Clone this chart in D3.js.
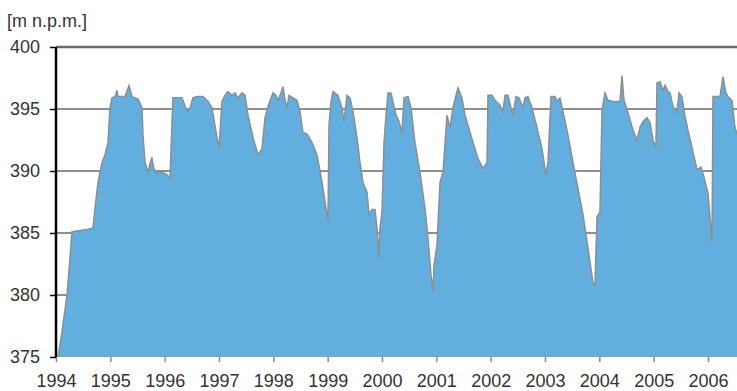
<!DOCTYPE html>
<html lang="pl">
  <head>
    <meta charset="UTF-8" />
    <title>Water level</title>
    <script src="https://cdn.jsdelivr.net/npm/d3@7"></script>
    <style>
      body { margin: 0; background: #fff; }
      text { font-family: "Liberation Sans", Arial, sans-serif; fill: #333; }
    </style>
  </head>
  <body>
    <script>
      // decimal year and water level [m n.p.m.]
      var years = [1994.037, 1994.110, 1994.202, 1994.258, 1994.294, 1994.442, 1994.589, 1994.681, 1994.718, 1994.773,
        1994.847, 1994.902, 1994.957, 1994.994, 1995.031, 1995.086, 1995.123, 1995.141, 1995.270, 1995.344,
        1995.399, 1995.509, 1995.583, 1995.601, 1995.638, 1995.693, 1995.730, 1995.767, 1995.785, 1995.822,
        1995.951, 1996.043, 1996.098, 1996.135, 1996.153, 1996.319, 1996.411, 1996.466, 1996.521, 1996.595,
        1996.706, 1996.798, 1996.871, 1996.963, 1997.000, 1997.055, 1997.110, 1997.166, 1997.239, 1997.294,
        1997.350, 1997.423, 1997.479, 1997.534, 1997.626, 1997.718, 1997.791, 1997.847, 1997.902, 1997.994,
        1998.049, 1998.086, 1998.141, 1998.178, 1998.215, 1998.252, 1998.288, 1998.362, 1998.436, 1998.491,
        1998.546, 1998.620, 1998.712, 1998.804, 1998.896, 1998.988, 1999.006, 1999.025, 1999.061, 1999.098,
        1999.190, 1999.264, 1999.301, 1999.356, 1999.411, 1999.466, 1999.540, 1999.595, 1999.650, 1999.724,
        1999.761, 1999.816, 1999.871, 1999.908, 1999.945, 1999.963, 2000.000, 2000.037, 2000.074, 2000.110,
        2000.166, 2000.202, 2000.258, 2000.313, 2000.368, 2000.405, 2000.479, 2000.534, 2000.607, 2000.699,
        2000.791, 2000.847, 2000.902, 2000.939, 2000.957, 2001.012, 2001.068, 2001.123, 2001.196, 2001.252,
        2001.307, 2001.362, 2001.399, 2001.472, 2001.528, 2001.583, 2001.675, 2001.767, 2001.859, 2001.933,
        2001.951, 2002.025, 2002.080, 2002.172, 2002.227, 2002.264, 2002.319, 2002.374, 2002.411, 2002.466,
        2002.521, 2002.595, 2002.632, 2002.687, 2002.761, 2002.853, 2002.945, 2003.018, 2003.055, 2003.110,
        2003.184, 2003.221, 2003.276, 2003.331, 2003.423, 2003.515, 2003.607, 2003.699, 2003.791, 2003.883,
        2003.920, 2003.957, 2004.012, 2004.049, 2004.104, 2004.160, 2004.252, 2004.380, 2004.417, 2004.454,
        2004.528, 2004.620, 2004.693, 2004.748, 2004.804, 2004.877, 2004.933, 2004.988, 2005.043, 2005.061,
        2005.117, 2005.172, 2005.209, 2005.264, 2005.301, 2005.356, 2005.429, 2005.466, 2005.521, 2005.577,
        2005.632, 2005.706, 2005.798, 2005.871, 2005.926, 2006.000, 2006.037, 2006.074, 2006.092, 2006.221,
        2006.276, 2006.331, 2006.368, 2006.442, 2006.497, 2006.534, 2006.600];
      var levels = [375.0, 377.0, 380.0, 383.0, 385.1, 385.2, 385.3, 385.4, 387.0, 389.1,
        390.7, 391.3, 392.3, 395.1, 395.9, 396.0, 396.5, 396.0, 396.0, 396.9,
        396.0, 395.8, 395.1, 392.9, 390.7, 389.9, 390.6, 391.1, 390.5, 389.9,
        389.9, 389.7, 389.4, 394.0, 395.9, 395.9, 394.8, 395.1, 395.9, 396.0,
        396.0, 395.6, 395.1, 392.7, 391.9, 395.6, 396.1, 396.4, 396.1, 396.3,
        395.9, 396.3, 396.1, 394.5, 392.7, 391.3, 391.8, 394.3, 395.2, 396.3,
        396.1, 395.7, 396.3, 396.8, 395.7, 395.1, 396.1, 395.9, 395.7, 394.8,
        393.1, 393.0, 392.3, 391.3, 389.1, 386.5, 386.0, 393.7, 395.6, 396.4,
        396.1, 395.1, 394.0, 396.1, 395.9, 394.8, 392.7, 390.7, 389.1, 388.3,
        386.5, 386.9, 386.9, 385.4, 383.0, 385.4, 386.7, 392.3, 394.5, 396.3,
        396.3, 395.6, 394.5, 394.0, 393.1, 395.9, 396.0, 395.1, 392.3, 389.9,
        387.0, 384.6, 381.6, 380.3, 382.4, 384.0, 389.1, 389.9, 394.5, 393.5,
        395.1, 396.1, 396.7, 395.9, 394.5, 393.7, 392.3, 391.0, 390.2, 390.7,
        396.1, 396.1, 395.7, 395.3, 394.8, 396.1, 396.1, 395.1, 394.5, 396.0,
        395.9, 395.1, 395.9, 396.0, 395.1, 393.5, 391.8, 389.7, 390.7, 396.0,
        396.0, 395.6, 395.9, 394.8, 392.9, 390.7, 388.6, 386.5, 383.8, 381.0,
        380.8, 386.3, 386.7, 394.9, 396.3, 395.7, 395.6, 395.6, 397.7, 395.7,
        394.7, 393.3, 392.5, 393.5, 394.0, 394.3, 393.9, 392.5, 391.9, 397.1,
        397.2, 396.5, 396.9, 396.4, 396.3, 395.2, 394.7, 396.3, 396.0, 394.4,
        393.3, 391.9, 390.1, 390.3, 389.5, 388.2, 386.3, 384.2, 396.0, 396.0,
        397.6, 396.3, 396.0, 395.7, 393.5, 393.0, 392.5];
      var yTicks = [375, 380, 385, 390, 395, 400];
      var xTicks = d3.range(1994, 2007);
      var unitLabel = "[m n.p.m.]";

      var width = 737, height = 391;
      var plotLeft = 56, plotRight = 737, plotTop = 47, plotBottom = 357;

      var data = years.map(function(d, i) { return { year: d, level: levels[i] }; });

      var svg = d3.select("body").append("svg")
        .attr("width", width)
        .attr("height", height);

      var xScale = d3.scaleLinear()
        .domain([1994, 2006.534])
        .range([plotLeft, plotRight]);

      var yScale = d3.scaleLinear()
        .domain([375, 400])
        .range([plotBottom, plotTop]);

      svg.append("clipPath").attr("id", "plot")
        .append("rect")
        .attr("x", plotLeft).attr("y", 0)
        .attr("width", plotRight - plotLeft).attr("height", plotBottom);

      // grid lines behind the area
      svg.selectAll(".grid")
        .data(yTicks.filter(function(d) { return d > 375 && d < 400; }))
        .enter()
        .append("line")
        .attr("class", "grid")
        .attr("x1", plotLeft).attr("x2", plotRight)
        .attr("y1", function(d) { return yScale(d); })
        .attr("y2", function(d) { return yScale(d); })
        .attr("stroke", "#8f8f8f")
        .attr("stroke-width", 2);

      svg.append("line")
        .attr("x1", plotLeft).attr("x2", plotRight)
        .attr("y1", yScale(400)).attr("y2", yScale(400))
        .attr("stroke", "#6a6a6a")
        .attr("stroke-width", 2.5);

      var area = d3.area()
        .x(function(d) { return xScale(d.year); })
        .y0(yScale(375))
        .y1(function(d) { return yScale(d.level); });

      var line = d3.line()
        .x(function(d) { return xScale(d.year); })
        .y(function(d) { return yScale(d.level); });

      var g = svg.append("g").attr("clip-path", "url(#plot)");

      g.append("path")
        .datum(data)
        .attr("d", area)
        .attr("fill", "#62afdf");

      g.append("path")
        .datum(data)
        .attr("d", line)
        .attr("fill", "none")
        .attr("stroke", "#8e8e8e")
        .attr("stroke-width", 1.5);

      // x axis: ticks only
      var xAxis = d3.axisBottom(xScale)
        .tickValues(xTicks)
        .tickFormat(d3.format("d"))
        .tickSize(5)
        .tickPadding(12);

      var gx = svg.append("g")
        .attr("transform", "translate(0," + plotBottom + ")")
        .call(xAxis);
      gx.select(".domain").remove();
      gx.selectAll("line").attr("stroke", "#8a8a8a").attr("stroke-width", 1.5);
      gx.selectAll("text")
        .attr("font-size", 18)
        .attr("fill", "#333");

      var yAxis = d3.axisLeft(yScale)
        .tickValues(yTicks)
        .tickSize(6)
        .tickPadding(10);

      var gy = svg.append("g")
        .attr("transform", "translate(" + plotLeft + ",0)")
        .call(yAxis);
      gy.select(".domain")
        .attr("stroke", "#000")
        .attr("stroke-width", 2.5)
        .attr("d", "M0," + plotTop + "V" + plotBottom);
      gy.selectAll("line").attr("stroke", "#000").attr("stroke-width", 1.5);
      gy.selectAll("text")
        .attr("font-size", 18)
        .attr("fill", "#333");

      svg.append("text")
        .attr("x", 7)
        .attr("y", 27)
        .attr("font-size", 18)
        .text(unitLabel);
    </script>
  </body>
</html>
